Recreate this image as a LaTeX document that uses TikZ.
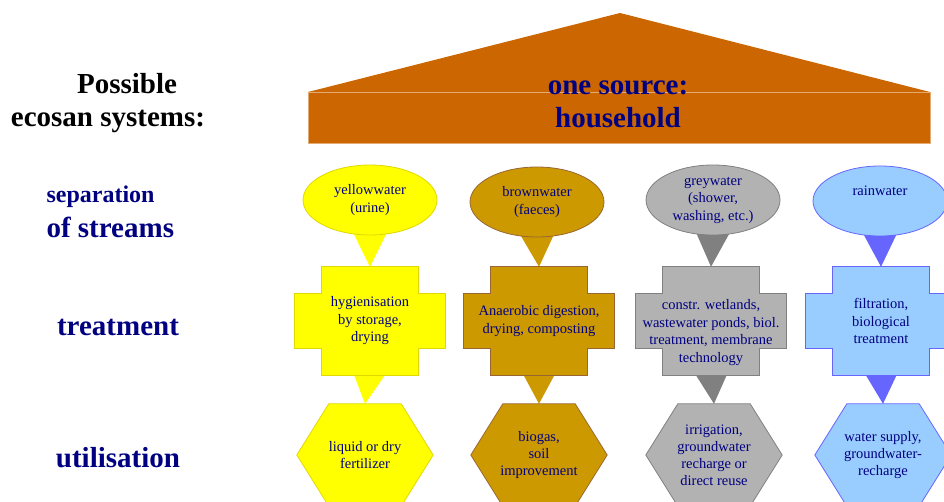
\documentclass[tikz,border=0pt]{standalone}
\usepackage{fontspec}
\setmainfont{Liberation Serif}
\usetikzlibrary{shapes,positioning,backgrounds}

\definecolor{navy}{RGB}{0,0,128}
\definecolor{housecol}{HTML}{CC6600}
\definecolor{ywfill}{HTML}{FFFF00}
\definecolor{ywline}{HTML}{E0D800}
\definecolor{bwfill}{HTML}{CC9900}
\definecolor{bwline}{HTML}{996633}
\definecolor{gwfill}{HTML}{B2B2B2}
\definecolor{gwline}{HTML}{808080}
\definecolor{rwfill}{HTML}{99CCFF}
\definecolor{rwline}{HTML}{6666FF}

% cross outline round a treatment node
\newcommand{\crossshape}[2]{\draw[#2] ([shift={(27,0)}]#1.north west) -- ([shift={(-27,0)}]#1.north east) -- ([shift={(-27,27)}]#1.north east) -- ([shift={(0,27)}]#1.north east) -- ([shift={(0,-27)}]#1.south east) -- ([shift={(-27,-27)}]#1.south east) -- ([shift={(-27,0)}]#1.south east) -- ([shift={(27,0)}]#1.south west) -- ([shift={(27,-27)}]#1.south west) -- ([shift={(0,-27)}]#1.south west) -- ([shift={(0,27)}]#1.north west) -- ([shift={(27,27)}]#1.north west) -- cycle;}
% hexagon outline round a utilisation node
\newcommand{\hexshape}[2]{\draw[#2] (#1.west) -- ([shift={(32,0)}]#1.north west) -- ([shift={(-32,0)}]#1.north east) -- (#1.east) -- ([shift={(-32,0)}]#1.south east) -- ([shift={(32,0)}]#1.south west) -- cycle;}
% pointer from one node down to the next
\newcommand{\pointer}[3]{\fill[#3] ([shift={(-17,-3)}]#1.south) -- ([shift={(17,-3)}]#1.south) -- (#2.north) -- cycle;}

\begin{document}
\begin{tikzpicture}[x=1pt, y=-1pt,
    heading/.style={font=\fontsize{29}{33}\selectfont\bfseries, text=navy, align=center},
    stream/.style={ellipse, draw, line width=0.8pt, minimum width=134pt, minimum height=70pt, inner sep=0pt, align=center, font=\fontsize{14.5}{17.5}\selectfont, text=navy},
    treat/.style={rectangle, minimum width=150pt, minimum height=108pt, inner sep=0pt, align=center, font=\fontsize{14.5}{17.5}\selectfont, text=navy},
    use/.style={rectangle, minimum width=136pt, minimum height=102pt, inner sep=0pt, align=center, font=\fontsize{14.5}{17}\selectfont, text=navy},
    outline/.style={line width=0.8pt}
]
\useasboundingbox (0,0) rectangle (944,502);

% Household
\fill[housecol] (308,92) -- (620,13) -- (930,92) -- cycle;
\draw[housecol!55!white, fill=housecol, line width=0.6pt] (308,92) rectangle (930,143);
\node[heading] (src) at (618,104) {one source:\\household};

% Row titles
\node[heading, text=black] (title1) at (127,84) {Possible};
\node[heading, text=black] (title2) at (108,121) {ecosan systems:};
\node[heading, font=\fontsize{24}{26}\selectfont\bfseries, anchor=west] (sep1) at (43,197) {separation};
\node[heading, anchor=west] (sep2) at (43,227) {of streams};
\node[heading] (treatrow) at (118,327) {treatment};
\node[heading] (userow) at (118,458) {utilisation};

% Separation of streams
\node[stream, draw=ywline, fill=ywfill] (yw) at (370,200) {yellowwater\\(urine)};
\node[stream, draw=bwline, fill=bwfill] (bw) at (537,202) {brownwater\\(faeces)};
\node[stream, draw=gwline, fill=gwfill] (gw) at (713,200) {greywater\\(shower,\\washing, etc.)};
\node[stream, draw=rwline, fill=rwfill] (rw) at (880,201) {rainwater\\[4pt]\mbox{}};

% Treatment
\node[treat] (ywt) at (370,321) {hygienisation\\by storage,\\drying};
\node[treat] (bwt) at (539,321) {Anaerobic digestion,\\drying, composting};
\node[treat] (gwt) at (711,321) {\mbox{}\\[16pt]constr. wetlands,\\wastewater ponds, biol.\\treatment, membrane\\technology};
\node[treat] (rwt) at (881,321) {filtration,\\biological\\treatment};

% Utilisation
\node[use] (ywu) at (365,455) {liquid or dry\\fertilizer};
\node[use] (bwu) at (539,455) {biogas,\\soil\\improvement};
\node[use] (gwu) at (714,455) {irrigation,\\groundwater\\recharge or\\direct reuse};
\node[use] (rwu) at (883,455) {water supply,\\groundwater-\\recharge};

\begin{scope}[on background layer]
\pointer{yw}{ywt}{ywfill}
\pointer{bw}{bwt}{bwfill}
\pointer{gw}{gwt}{gwline}
\pointer{rw}{rwt}{rwline}
\pointer{ywt}{ywu}{ywfill}
\pointer{bwt}{bwu}{bwfill}
\pointer{gwt}{gwu}{gwline}
\pointer{rwt}{rwu}{rwline}

\crossshape{ywt}{outline, draw=ywline, fill=ywfill}
\crossshape{bwt}{outline, draw=bwline, fill=bwfill}
\crossshape{gwt}{outline, draw=gwline, fill=gwfill}
\crossshape{rwt}{outline, draw=rwline, fill=rwfill}

\hexshape{ywu}{outline, draw=ywline, fill=ywfill}
\hexshape{bwu}{outline, draw=bwline, fill=bwfill}
\hexshape{gwu}{outline, draw=gwline, fill=gwfill}
\hexshape{rwu}{outline, draw=rwline, fill=rwfill}
\end{scope}

\end{tikzpicture}
\end{document}
